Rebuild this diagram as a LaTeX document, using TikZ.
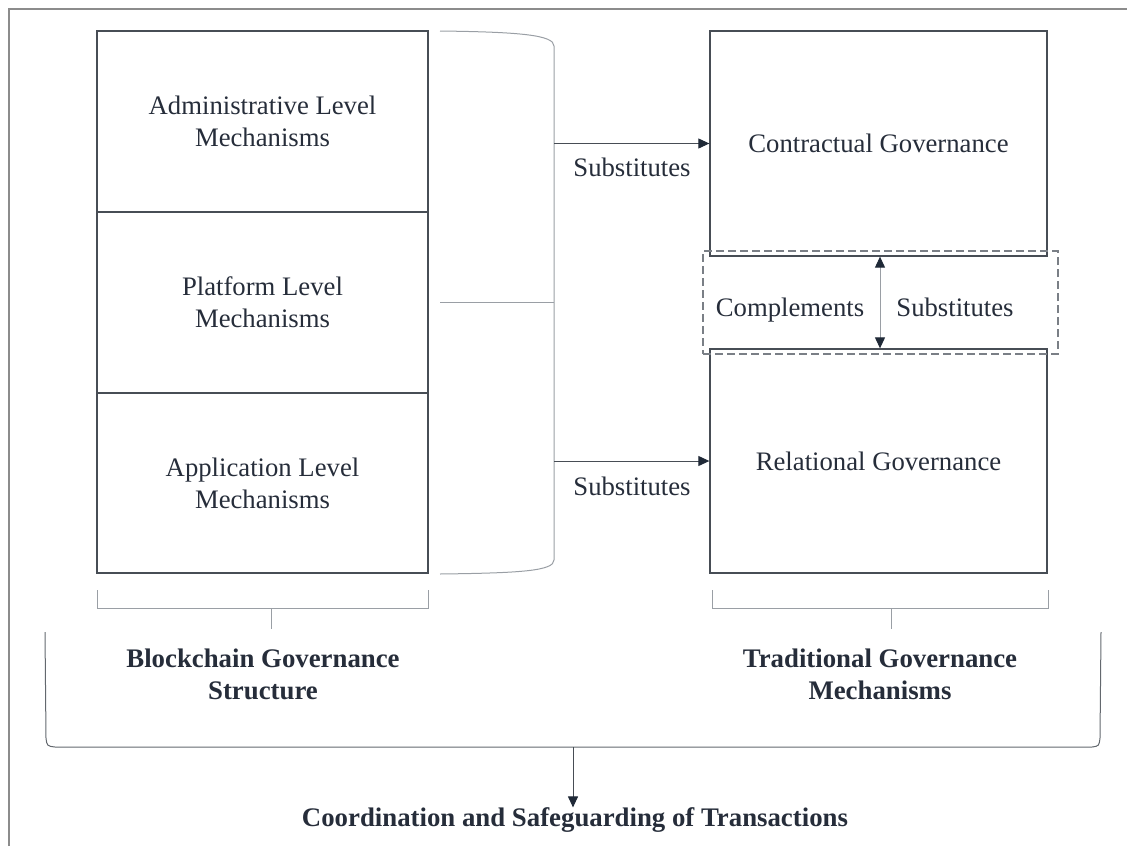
\documentclass[tikz,border=0pt]{standalone}
\usepackage{fontspec}
\setmainfont{Liberation Serif}
\usetikzlibrary{arrows.meta}
\definecolor{txt}{HTML}{262D3A}
\definecolor{boxc}{HTML}{474D55}
\definecolor{brk}{HTML}{9A9FA5}
\definecolor{frm}{HTML}{8C8C8C}
\definecolor{dsh}{HTML}{7A7F86}
\definecolor{arrc}{HTML}{1F2937}
\tikzset{
  boxn/.style={draw=boxc, line width=1.3pt, rectangle, inner sep=0pt, align=center, text=txt,
    font=\fontsize{26.7}{32}\selectfont},
  lbl/.style={text=txt, inner sep=0pt, align=center, font=\fontsize{26.7}{32}\selectfont},
  blbl/.style={text=txt, inner sep=0pt, align=center, font=\fontsize{26.8}{32}\selectfont\bfseries},
  brline/.style={draw=brk, line width=1pt},
  tip/.tip={Triangle[width=10pt,length=11pt,color=arrc]},
  arr/.style={draw=boxc, line width=1pt, -tip},
  darr/.style={draw=brk, line width=1pt, tip-tip},
}
\begin{document}
\begin{tikzpicture}[x=1pt,y=-1pt]
\useasboundingbox (0,0) rectangle (1127,846);
% outer frame (cropped)
\draw[draw=frm, line width=2pt] (9,846) -- (9,9) -- (1127,9);
% left boxes
\node[boxn, minimum width=331pt, minimum height=181pt] (adm) at (262.5,121.5) {Administrative Level\\Mechanisms};
\node[boxn, minimum width=331pt, minimum height=181pt] (plat) at (262.5,302.5) {Platform Level\\Mechanisms};
\node[boxn, minimum width=331pt, minimum height=180pt] (app) at (262.5,483) {Application Level\\Mechanisms};
% right boxes
\node[boxn, minimum width=337pt, minimum height=225pt] (con) at (878.5,143.5) {Contractual Governance};
\node[boxn, minimum width=337pt, minimum height=224pt] (rel) at (878.5,461) {Relational Governance};
% dashed box
\node[draw=dsh, line width=1.3pt, dash pattern=on 8pt off 4pt, minimum width=355pt, minimum height=103pt, inner sep=0pt] (dbox) at (880.5,302.5) {};
\node[lbl, anchor=base] (comp) at (790,316) {Complements};
\node[lbl, anchor=base] (subm) at (955,316) {Substitutes};
\draw[darr] (con.south -| 880,0) -- (rel.north -| 880,0);
% bracket
\coordinate (bt) at (440,31);
\coordinate (bb) at (440,574);
\coordinate (bm) at (440,302);
\coordinate (bv1) at (554,46);
\coordinate (bv2) at (554,560);
\coordinate (bc) at (554,302);
\coordinate (b1) at (554,143.5);
\coordinate (b2) at (554,461);
\draw[brline] (bt) .. controls (520,32) and (554,35) .. (bv1) -- (bv2) .. controls (554,571) and (520,573) .. (bb);
\draw[brline] (bm) -- (bc);
\draw[arr] (b1) -- (con.west);
\draw[arr] (b2) -- (rel.west);
\node[lbl] (sub1) at (632,167) {Substitutes};
\node[lbl] (sub2) at (632,486) {Substitutes};
% bottom brackets
\coordinate (l1) at (97,590);
\coordinate (l2) at (97,608);
\coordinate (l3) at (428,608);
\coordinate (l4) at (428,590);
\coordinate (lc1) at (271,608);
\coordinate (lc2) at (271,629);
\draw[brline] (l1) -- (l2) -- (l3) -- (l4);
\draw[brline] (lc1) -- (lc2);
\coordinate (r1) at (712,590);
\coordinate (r2) at (712,608);
\coordinate (r3) at (1048,608);
\coordinate (r4) at (1048,590);
\coordinate (rc1) at (891,608);
\coordinate (rc2) at (891,629);
\draw[brline] (r1) -- (r2) -- (r3) -- (r4);
\draw[brline] (rc1) -- (rc2);
\node[blbl] (bgs) at (263,674) {Blockchain Governance\\Structure};
\node[blbl] (tgm) at (880,674) {Traditional Governance\\Mechanisms};
% big bracket
\coordinate (g1) at (45,632);
\coordinate (g2) at (46,738);
\coordinate (g3) at (55,747);
\coordinate (g4) at (1092,747);
\coordinate (g5) at (1100,738);
\coordinate (g6) at (1101,632);
\coordinate (gm) at (573,747);
\draw[draw=boxc!85, line width=1pt] (g1) -- (g2) .. controls (47,746) .. (g3) -- (g4) .. controls (1099,746) .. (g5) -- (g6);
\node[blbl] (coord) at (575,820) {Coordination and Safeguarding of Transactions};
\draw[arr] (gm) -- (coord.north -| gm);
\end{tikzpicture}
\end{document}
